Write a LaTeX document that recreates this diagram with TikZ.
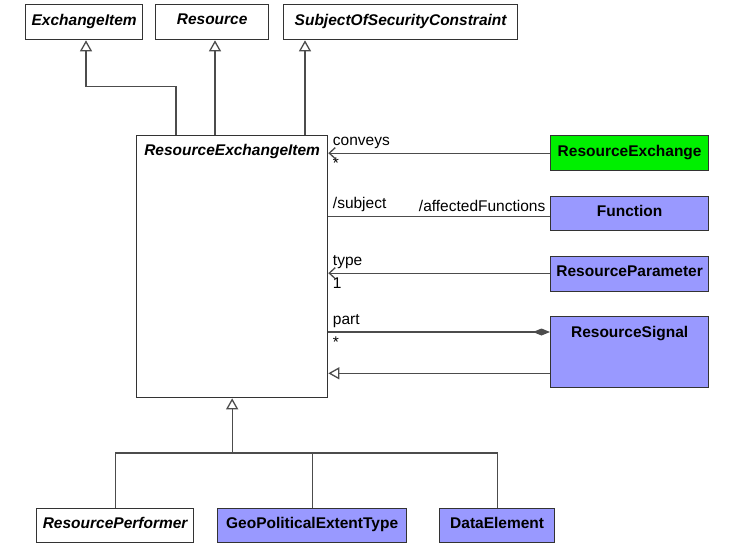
\documentclass[tikz,border=0pt]{standalone}
\usepackage{fontspec}
\setmainfont{Liberation Sans}
\usetikzlibrary{arrows.meta, positioning}
\definecolor{umlblue}{HTML}{9999FF}
\definecolor{umlgreen}{HTML}{00F000}

\begin{document}
\begin{tikzpicture}[x=1pt, y=-1pt,
    cls/.style={draw=black!80, line width=1.3pt, anchor=north west, inner sep=0pt,
      minimum height=35pt, text depth=5pt, font=\fontsize{15.5}{18}\selectfont\bfseries},
    abs/.style={cls, fill=white, font=\fontsize{15.5}{18}\selectfont\bfseries\itshape},
    elem/.style={cls, fill=umlblue},
    lbl/.style={font=\fontsize{15.5}{18}\selectfont, inner sep=4pt},
    conn/.style={draw=black!70, line width=1.3pt},
    gen/.style={conn, -{Triangle[open, length=11pt, width=12pt]}},
    nav/.style={conn, -{Straight Barb[length=6pt, width=11pt]}},
    comp/.style={conn, -{Diamond[length=17pt, width=7pt]}}]
    \useasboundingbox (0,0) rectangle (739,550);

    % Draw the parent classes along the top
    \node[abs, minimum width=117pt] (exitem) at (25,4) {ExchangeItem};
    \node[abs, minimum width=113pt] (res) at (155,4) {Resource};
    \node[abs, minimum width=234pt] (subj) at (283,4) {SubjectOfSecurityConstraint};

    % Draw the central class with its title at the top
    \node[abs, minimum width=191pt, minimum height=262pt,
      label={[anchor=north, yshift=-6pt, font=\fontsize{15.5}{18}\selectfont\bfseries\itshape]north:ResourceExchangeItem}]
      (rei) at (136,135) {};

    % Draw the related classes on the right
    \node[cls, fill=umlgreen, minimum width=158pt] (rex) at (550,135) {ResourceExchange};
    \node[elem, minimum width=158pt, minimum height=34pt] (func) at (550,196) {Function};
    \node[elem, minimum width=158pt] (rparam) at (550,256) {ResourceParameter};
    \node[elem, minimum width=158pt, minimum height=71pt,
      label={[anchor=north, yshift=-7pt, font=\fontsize{15.5}{18}\selectfont\bfseries]north:ResourceSignal}]
      (rsig) at (550,316) {};

    % Draw the subclasses along the bottom
    \node[abs, minimum width=157pt, minimum height=34pt] (rperf) at (36,508) {ResourcePerformer};
    \node[elem, minimum width=189pt, minimum height=34pt] (geo) at (217,508) {GeoPoliticalExtentType};
    \node[elem, minimum width=115pt, minimum height=34pt] (delem) at (439,508) {DataElement};

    % Attachment points on the box edges
    \coordinate (exfoot) at ([xshift=61pt]exitem.south west);
    \coordinate (resfoot) at ([xshift=60pt]res.south west);
    \coordinate (subjfoot) at ([xshift=22pt]subj.south west);
    \coordinate (funcend) at ([yshift=-3pt]func.west);
    \coordinate (rparamend) at ([yshift=1pt]rparam.west);
    \coordinate (partend) at ([yshift=-16pt]rsig.north west);
    \coordinate (rsiggen) at ([yshift=15pt]rsig.south west);

    % Draw generalizations up to the parent classes
    \draw[gen] ([xshift=40pt]rei.north west) |- ([yshift=-46pt]exfoot) -- (exfoot);
    \draw[gen] (rei.north -| resfoot) -- (resfoot);
    \draw[gen] (rei.north -| subjfoot) -- (subjfoot);

    % Draw the associations on the right
    \draw[nav] (rex.west) -- (rex.west -| rei.east)
      node[lbl, pos=1, above right] {conveys} node[lbl, pos=1, below right] {*};
    \draw[conn] (funcend) -- (funcend -| rei.east)
      node[lbl, pos=1, above right] {/subject} node[lbl, pos=0, above left] {/affectedFunctions};
    \draw[nav] (rparamend) -- (rparamend -| rei.east)
      node[lbl, pos=1, above right] {type} node[lbl, pos=1, below right] {1};
    \draw[comp] (partend -| rei.east) -- (partend)
      node[lbl, pos=0, above right] {part} node[lbl, pos=0, below right] {*};
    \draw[gen] (rsiggen) -- (rsiggen -| rei.east);

    % Draw the generalization tree from the subclasses
    \coordinate (bus) at (rei.south |- 0,453);
    \draw[conn] (rperf.north) |- (delem.north |- bus) -- (delem.north);
    \draw[conn] (geo.north) -- (geo.north |- bus);
    \draw[gen] (bus) -- (rei.south);
  \end{tikzpicture}
\end{document}
